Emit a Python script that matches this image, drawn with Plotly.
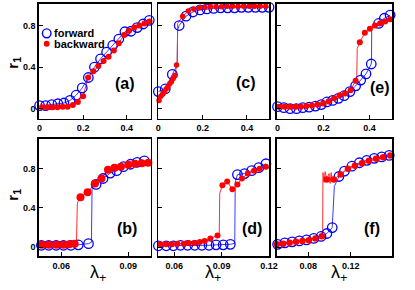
import plotly.graph_objects as go

W, H = 415, 290

# ---------------- data ----------------
# panel (a)
a_fwd_x = [0, 0.028, 0.056, 0.084, 0.112, 0.14, 0.168, 0.196, 0.224, 0.252, 0.28, 0.308, 0.336, 0.364, 0.392, 0.42, 0.448, 0.476, 0.504]
a_fwd_y = [0.03, 0.03, 0.04, 0.048, 0.055, 0.08, 0.13, 0.2, 0.3, 0.4, 0.48, 0.545, 0.61, 0.67, 0.74, 0.745, 0.78, 0.815, 0.85]
a_bwd_x = [0.012, 0.035, 0.059, 0.082, 0.106, 0.129, 0.153, 0.176, 0.2, 0.223, 0.247, 0.27, 0.294, 0.317, 0.341, 0.364, 0.388, 0.411, 0.435, 0.458, 0.482, 0.505]
a_bwd_y = [0.015, 0.015, 0.015, 0.015, 0.018, 0.02, 0.035, 0.065, 0.12, 0.3, 0.36, 0.41, 0.46, 0.5, 0.56, 0.63, 0.71, 0.75, 0.78, 0.8, 0.82, 0.84]

# panel (c)
c_fwd_x = [0, 0.031, 0.063, 0.094, 0.125, 0.156, 0.188, 0.219, 0.25, 0.281, 0.313, 0.344, 0.375, 0.406, 0.438, 0.469, 0.5]
c_fwd_y = [0.165, 0.19, 0.33, 0.8, 0.89, 0.93, 0.95, 0.96, 0.965, 0.97, 0.97, 0.97, 0.975, 0.975, 0.975, 0.975, 0.975]
c_fwd_jump_x = [0.085, 0.087]
c_fwd_jump_y = [0.42, 0.76]
c_bwd_x = [0.003, 0.011, 0.019, 0.027, 0.035, 0.043, 0.051, 0.059, 0.067, 0.075, 0.082, 0.11, 0.135, 0.16, 0.185, 0.21, 0.235, 0.26, 0.285, 0.31, 0.335, 0.36, 0.385, 0.41, 0.435, 0.46, 0.485]
c_bwd_y = [0.08, 0.12, 0.14, 0.16, 0.19, 0.21, 0.24, 0.26, 0.29, 0.32, 0.42, 0.89, 0.94, 0.96, 0.97, 0.975, 0.98, 0.98, 0.98, 0.985, 0.985, 0.985, 0.985, 0.985, 0.985, 0.985, 0.985]
c_bwd_jump_x = [0.085, 0.087]
c_bwd_jump_y = [0.45, 0.82]

# panel (e)
e_fwd_x = [0, 0.0275, 0.055, 0.0825, 0.11, 0.1375, 0.165, 0.19, 0.215, 0.24, 0.265, 0.29, 0.315, 0.34, 0.362, 0.385, 0.408, 0.44, 0.465, 0.49]
e_fwd_y = [0.02, 0.01, 0.0, 0.0, 0.01, 0.015, 0.025, 0.04, 0.065, 0.08, 0.1, 0.125, 0.165, 0.22, 0.275, 0.335, 0.43, 0.82, 0.87, 0.9]
e_fwd_jump_x = [0.409, 0.41]
e_fwd_jump_y = [0.46, 0.77]
e_bwd_x = [0.006, 0.031, 0.055, 0.078, 0.102, 0.126, 0.15, 0.174, 0.198, 0.222, 0.246, 0.27, 0.294, 0.318, 0.34, 0.358, 0.38, 0.402, 0.424, 0.446, 0.468, 0.49, 0.505]
e_bwd_y = [0.02, 0.02, 0.02, 0.02, 0.02, 0.025, 0.03, 0.04, 0.05, 0.07, 0.1, 0.13, 0.146, 0.178, 0.27, 0.64, 0.73, 0.77, 0.8, 0.82, 0.84, 0.86, 0.88]
e_bwd_jump_x = [0.345, 0.347]
e_bwd_jump_y = [0.32, 0.58]

# panel (b)
b_fwd_x = [0.0511, 0.0544, 0.0577, 0.061, 0.0643, 0.0676, 0.0722, 0.0756, 0.0787, 0.0819, 0.0848, 0.0878, 0.091, 0.094, 0.0972]
b_fwd_y = [0.02, 0.02, 0.02, 0.02, 0.02, 0.025, 0.037, 0.64, 0.7, 0.755, 0.78, 0.82, 0.845, 0.865, 0.88]
b_fwd_jump_x = [0.0735, 0.0738]
b_fwd_jump_y = [0.05, 0.6]
b_bwd_x = [0.0513, 0.0545, 0.0578, 0.061, 0.0636, 0.066, 0.0686, 0.0718, 0.0751, 0.078, 0.0809, 0.0838, 0.0867, 0.09, 0.093, 0.096, 0.099]
b_bwd_y = [0.025, 0.025, 0.025, 0.025, 0.03, 0.035, 0.51, 0.56, 0.65, 0.7, 0.79, 0.81, 0.82, 0.84, 0.85, 0.855, 0.86]
b_bwd_jump_x = [0.0668, 0.0672]
b_bwd_jump_y = [0.04, 0.45]

# panel (d)
d_fwd_x = [0.05, 0.055, 0.0595, 0.064, 0.0685, 0.073, 0.0775, 0.082, 0.0865, 0.091, 0.0955, 0.1, 0.1045, 0.109, 0.1135, 0.118]
d_fwd_y = [0.015, 0.015, 0.015, 0.02, 0.02, 0.02, 0.02, 0.02, 0.025, 0.025, 0.03, 0.74, 0.75, 0.78, 0.81, 0.85]
d_fwd_jump_x = [0.0983, 0.0986]
d_fwd_jump_y = [0.04, 0.66]
d_bwd_x = [0.0513, 0.0549, 0.0586, 0.062, 0.0661, 0.0691, 0.0728, 0.0762, 0.0793, 0.0829, 0.0874, 0.0905, 0.0935, 0.0968, 0.1, 0.1028, 0.1065, 0.1105, 0.114, 0.118]
d_bwd_y = [0.03, 0.03, 0.03, 0.037, 0.037, 0.044, 0.044, 0.054, 0.064, 0.088, 0.12, 0.63, 0.67, 0.59, 0.64, 0.7, 0.75, 0.78, 0.8, 0.82]
d_bwd_jump_x = [0.0885, 0.0888]
d_bwd_jump_y = [0.13, 0.55]

# panel (f)
f_fwd_x = [0.0512, 0.058, 0.0648, 0.0716, 0.0784, 0.0852, 0.092, 0.0975, 0.1025, 0.1088, 0.114, 0.121, 0.128, 0.135, 0.142, 0.149, 0.156]
f_fwd_y = [0.03, 0.045, 0.055, 0.065, 0.075, 0.09, 0.11, 0.14, 0.2, 0.72, 0.775, 0.825, 0.86, 0.885, 0.905, 0.92, 0.935]
f_fwd_jump_x = [0.1035, 0.1045]
f_fwd_jump_y = [0.45, 0.62]
f_bwd_x = [0.0505, 0.0565, 0.0625, 0.0685, 0.0745, 0.0806, 0.0867, 0.0927, 0.0973, 0.1039, 0.1105, 0.1172, 0.1238, 0.1305, 0.137, 0.1437, 0.1503, 0.157]
f_bwd_y = [0.03, 0.035, 0.045, 0.055, 0.065, 0.072, 0.088, 0.112, 0.69, 0.69, 0.74, 0.8, 0.83, 0.855, 0.88, 0.9, 0.915, 0.935]
f_bwd_jump_x = [0.0935, 0.0938, 0.0948, 0.0958, 0.0995, 0.1005, 0.1015, 0.1025]
f_bwd_jump_y = [0.14, 0.76, 0.66, 0.77, 0.75, 0.65, 0.76, 0.67]

panel_labels = ["(a)", "(c)", "(e)", "(b)", "(d)", "(f)"]
series_names = ["forward", "backward"]
y_ticks = [0, 0.4, 0.8]
y_ticktext = ["0", "0.4", "0.8"]
x_ticks = [[0, 0.2, 0.4], [0, 0.2, 0.4], [0, 0.2, 0.4], [0.06, 0.09], [0.06, 0.09, 0.12], [0.08, 0.12, 0.16]]
x_ticktext = [["0", "0.2", "0.4"], ["0", "0.2", "0.4"], ["0", "0.2", "0.4"], ["0.06", "0.09"], ["0.06", "0.09", "0.12"], ["0.08", "0.12", "0.16"]]
y_label = "r<sub>1</sub>"
x_label = "λ<sub>+</sub>"

panels = [
    (a_fwd_x, a_fwd_y, [], [], a_bwd_x, a_bwd_y, [], []),
    (c_fwd_x, c_fwd_y, c_fwd_jump_x, c_fwd_jump_y, c_bwd_x, c_bwd_y, c_bwd_jump_x, c_bwd_jump_y),
    (e_fwd_x, e_fwd_y, e_fwd_jump_x, e_fwd_jump_y, e_bwd_x, e_bwd_y, e_bwd_jump_x, e_bwd_jump_y),
    (b_fwd_x, b_fwd_y, b_fwd_jump_x, b_fwd_jump_y, b_bwd_x, b_bwd_y, b_bwd_jump_x, b_bwd_jump_y),
    (d_fwd_x, d_fwd_y, d_fwd_jump_x, d_fwd_jump_y, d_bwd_x, d_bwd_y, d_bwd_jump_x, d_bwd_jump_y),
    (f_fwd_x, f_fwd_y, f_fwd_jump_x, f_fwd_jump_y, f_bwd_x, f_bwd_y, f_bwd_jump_x, f_bwd_jump_y),
]

# ---------------- layout geometry (pixels) ----------------
col_px = [(37, 152), (160, 274), (282, 401)]
row_px = [(3.7, 118.7), (138.7, 256.3)]
x_ranges = [[-0.003, 0.51], [0, 0.5], [-0.003, 0.5], [0.05, 0.1], [0.05, 0.12], [0.0505, 0.159]]
y_ranges = [[-0.096, 1.01], [-0.092, 1.105]]
red_sizes = [6, 5.5, 6, 8, 6, 6.5]
label_pos = [(126, 83), (250, 82), (388, 87), (128, 228), (256, 228), (380, 228)]
xlab_pos = [(98, 273), (216, 273), (346, 273)]
ylab_pos = [(10, 63), (10, 195)]

BLUE = "#0000ff"
RED = "#ff0000"
FONT = "Liberation Sans, Arial, sans-serif"


def px2x(p):
    return p / W


def px2y(p):
    return 1 - p / H


def merged(xs, ys, jx, jy):
    pts = sorted(zip(list(xs) + list(jx), list(ys) + list(jy)))
    return [p[0] for p in pts], [p[1] for p in pts]


fig = go.Figure()
layout = dict(
    width=W, height=H, autosize=False,
    margin=dict(l=0, r=0, t=0, b=0),
    paper_bgcolor="white", plot_bgcolor="white",
    showlegend=False,
    font=dict(family=FONT, color="black"),
)

annotations = []
shapes = []

for i, (fx, fy, fjx, fjy, bx, by, bjx, bjy) in enumerate(panels):
    r, c = divmod(i, 3)
    n = i + 1
    xa = "x" if n == 1 else f"x{n}"
    ya = "y" if n == 1 else f"y{n}"
    # lines
    lx, ly = merged(fx, fy, fjx, fjy)
    fig.add_trace(go.Scatter(x=lx, y=ly, mode="lines", line=dict(color="#3a3aff", width=1),
                             xaxis=xa, yaxis=ya, hoverinfo="skip"))
    lx, ly = merged(bx, by, bjx, bjy)
    fig.add_trace(go.Scatter(x=lx, y=ly, mode="lines", line=dict(color="#ff3030", width=1),
                             xaxis=xa, yaxis=ya, hoverinfo="skip"))
    # markers
    fig.add_trace(go.Scatter(x=fx, y=fy, mode="markers", name=series_names[0],
                             marker=dict(symbol="circle-open", size=9.5, color=BLUE, line=dict(width=1.3, color=BLUE)),
                             cliponaxis=False, xaxis=xa, yaxis=ya))
    fig.add_trace(go.Scatter(x=bx, y=by, mode="markers", name=series_names[1],
                             marker=dict(symbol="circle", size=red_sizes[i], color=RED, line=dict(width=0)),
                             cliponaxis=False, xaxis=xa, yaxis=ya))

    xkey = "xaxis" if n == 1 else f"xaxis{n}"
    ykey = "yaxis" if n == 1 else f"yaxis{n}"
    common = dict(showline=True, mirror=True, linecolor="black", linewidth=1.5,
                  ticks="inside", ticklen=4, tickwidth=1, tickcolor="black",
                  showgrid=False, zeroline=False, fixedrange=True,
                  tickfont=dict(family=FONT, size=9, color="black", weight="bold"))
    layout[xkey] = dict(common, domain=[px2x(col_px[c][0]), px2x(col_px[c][1])],
                        range=x_ranges[i], anchor=ya,
                        tickmode="array", tickvals=x_ticks[i], ticktext=x_ticktext[i])
    layout[ykey] = dict(common, domain=[px2y(row_px[r][1]), px2y(row_px[r][0])],
                        range=y_ranges[r], anchor=xa,
                        tickmode="array", tickvals=y_ticks, ticktext=y_ticktext,
                        showticklabels=(c == 0))
    lxp, lyp = label_pos[i]
    annotations.append(dict(x=px2x(lxp), y=px2y(lyp), xref="paper", yref="paper",
                            text=panel_labels[i], showarrow=False, xanchor="center", yanchor="middle",
                            font=dict(family=FONT, size=16, color="black", weight="bold")))

for (xp, yp) in xlab_pos:
    annotations.append(dict(x=px2x(xp), y=px2y(yp), xref="paper", yref="paper", text=x_label,
                            showarrow=False, xanchor="center", yanchor="middle",
                            font=dict(family=FONT, size=18, color="black")))
for (xp, yp) in ylab_pos:
    annotations.append(dict(x=px2x(xp), y=px2y(yp), xref="paper", yref="paper", text=y_label,
                            showarrow=False, xanchor="center", yanchor="middle", textangle=-90,
                            font=dict(family=FONT, size=15, color="black", weight="bold")))

# legend inside panel (a)
leg_rows = [(33.3, BLUE, "open", 4.4), (43.8, RED, "fill", 3.0)]
for k, (yp, col, kind, rad) in enumerate(leg_rows):
    cx = 45
    shapes.append(dict(type="circle", xref="paper", yref="paper",
                       x0=px2x(cx - rad), x1=px2x(cx + rad), y0=px2y(yp + rad), y1=px2y(yp - rad),
                       line=dict(color=col, width=1.4 if kind == "open" else 0),
                       fillcolor=("rgba(0,0,0,0)" if kind == "open" else col)))
    annotations.append(dict(x=px2x(50), y=px2y(yp), xref="paper", yref="paper",
                            text=series_names[k], showarrow=False, xanchor="left", yanchor="middle",
                            font=dict(family=FONT, size=11, color="black", weight="bold")))

layout["annotations"] = annotations
layout["shapes"] = shapes
fig.update_layout(**layout)

fig.write_html("out.html", config={"displayModeBar": False, "staticPlot": True},
               post_script="document.body.style.margin='0px';")
